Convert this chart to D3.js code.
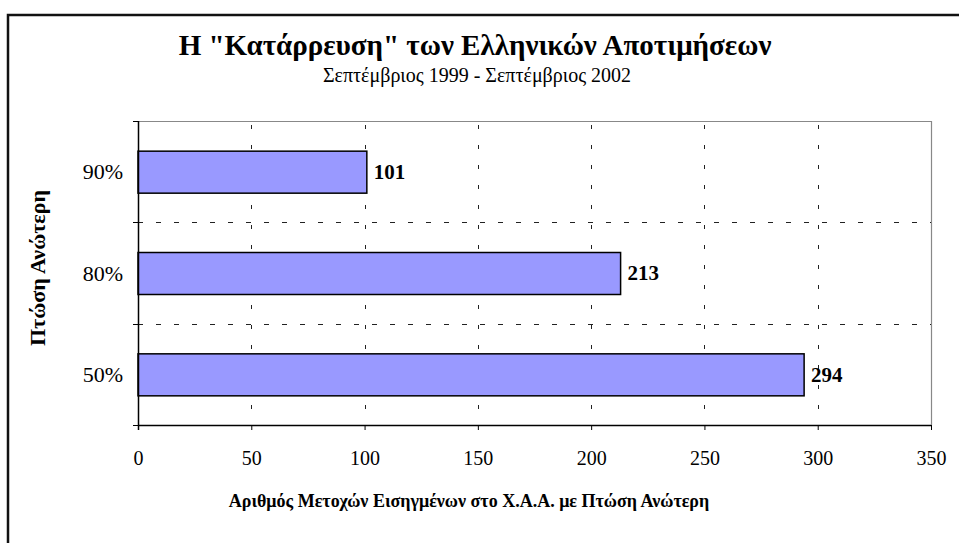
<!DOCTYPE html>
<html>
<head>
<meta charset="utf-8">
<script src="https://cdn.jsdelivr.net/npm/d3@7"></script>
<style>
  body { margin: 0; background: #fff; }
  svg { display: block; font-family: "Liberation Serif", "DejaVu Serif", "Times New Roman", serif; }
</style>
</head>
<body>
<svg id="chart" width="959" height="543"></svg>
<script>
// data
const categories = ['90%', '80%', '50%'];
const values = [101, 213, 294];
const xTicks = [0, 50, 100, 150, 200, 250, 300, 350];

const titleText = 'Η "Κατάρρευση" των Ελληνικών Αποτιμήσεων';
const subtitleText = 'Σεπτέμβριος 1999 - Σεπτέμβριος 2002';
const yTitle = 'Πτώση Ανώτερη';
const xTitle = 'Αριθμός Μετοχών Εισηγμένων στο Χ.Α.Α. με Πτώση Ανώτερη';

const margins = { top: 121, left: 138, right: 28, bottom: 118 };
const width = 959, height = 543;
const innerW = width - margins.left - margins.right;
const innerH = height - margins.top - margins.bottom;

const svg = d3.select('#chart');

// outer frame (runs off the right and bottom edges)
svg.append('rect')
  .attr('x', 8).attr('y', 15)
  .attr('width', 980).attr('height', 600)
  .attr('fill', 'none')
  .attr('stroke', '#111')
  .attr('stroke-width', 2.5);

const x = d3.scaleLinear().domain([0, 350]).range([0, innerW]);
const band = innerH / categories.length;

const g = svg.append('g').attr('transform', 'translate(' + margins.left + ',' + margins.top + ')');

// plot frame top/right in gray
g.append('path')
  .attr('d', 'M0,0.5H' + (innerW + 0.5) + 'V' + innerH)
  .attr('fill', 'none')
  .attr('stroke', '#888')
  .attr('stroke-width', 1.2);

// vertical grid
g.selectAll('.vgrid')
  .data(xTicks.filter(d => d > 0 && d < 350))
  .enter().append('line')
  .attr('class', 'vgrid')
  .attr('x1', d => Math.round(x(d)) + 0.5)
  .attr('x2', d => Math.round(x(d)) + 0.5)
  .attr('y1', innerH).attr('y2', 0)
  .attr('stroke', '#222')
  .attr('stroke-width', 1)
  .attr('stroke-dasharray', '4,16')
  .attr('stroke-dashoffset', 4);

// horizontal grid at category boundaries
g.selectAll('.hgrid')
  .data([1, 2])
  .enter().append('line')
  .attr('class', 'hgrid')
  .attr('x1', 0).attr('x2', innerW)
  .attr('y1', d => Math.round(d * band) + 0.5)
  .attr('y2', d => Math.round(d * band) + 0.5)
  .attr('stroke', '#222')
  .attr('stroke-width', 1)
  .attr('stroke-dasharray', '5,13');

// bars
const barH = 42;
g.selectAll('.bar')
  .data(categories)
  .enter().append('rect')
  .attr('class', 'bar')
  .attr('x', 0)
  .attr('y', (d, i) => i * band + band / 2 - barH / 2 + 0.5)
  .attr('width', (d, i) => x(values[i]))
  .attr('height', barH)
  .attr('fill', '#9999FF')
  .attr('stroke', '#000')
  .attr('stroke-width', 1.5);

// value labels
g.selectAll('.vlabel')
  .data(categories)
  .enter().append('text')
  .attr('class', 'vlabel')
  .attr('x', (d, i) => x(values[i]) + 7)
  .attr('y', (d, i) => i * band + band / 2)
  .attr('dy', '0.35em')
  .attr('font-size', 21)
  .attr('font-weight', 'bold')
  .text((d, i) => values[i]);

// x axis
const xAxis = d3.axisBottom(x).tickValues(xTicks).tickSize(5).tickPadding(21).tickFormat(d => d);
const gx = g.append('g')
  .attr('transform', 'translate(0,' + innerH + ')')
  .call(xAxis);
gx.select('.domain').attr('stroke', '#000').attr('stroke-width', 1.5).attr('d', 'M0,0.5H' + innerW);
gx.selectAll('.tick line').attr('stroke', '#000');
gx.selectAll('text').attr('font-size', 20).attr('font-family', '"Liberation Serif", serif').attr('fill', '#000');

// y axis: ticks at band boundaries, labels centered on bands
const gy = g.append('g');
gy.append('line')
  .attr('x1', 0.5).attr('x2', 0.5)
  .attr('y1', 0).attr('y2', innerH + 5)
  .attr('stroke', '#000').attr('stroke-width', 1.5);
gy.selectAll('.ytick')
  .data(d3.range(categories.length + 1))
  .enter().append('line')
  .attr('x1', -5).attr('x2', 0)
  .attr('y1', d => Math.round(d * band) + 0.5)
  .attr('y2', d => Math.round(d * band) + 0.5)
  .attr('stroke', '#000');
gy.selectAll('.ylabel')
  .data(categories)
  .enter().append('text')
  .attr('x', -15)
  .attr('y', (d, i) => i * band + band / 2)
  .attr('dy', '0.35em')
  .attr('text-anchor', 'end')
  .attr('font-size', 22)
  .text(d => d);

// titles
svg.append('text')
  .attr('x', 475).attr('y', 55)
  .attr('text-anchor', 'middle')
  .attr('font-size', 29)
  .attr('font-weight', 'bold')
  .text(titleText);
svg.append('text')
  .attr('x', 477).attr('y', 82)
  .attr('text-anchor', 'middle')
  .attr('font-size', 20)
  .text(subtitleText);
svg.append('text')
  .attr('transform', 'translate(45,268) rotate(-90)')
  .attr('text-anchor', 'middle')
  .attr('font-size', 22)
  .attr('font-weight', 'bold')
  .text(yTitle);
svg.append('text')
  .attr('x', 469).attr('y', 507)
  .attr('text-anchor', 'middle')
  .attr('font-size', 18)
  .attr('font-weight', 'bold')
  .text(xTitle);
</script>
</body>
</html>
